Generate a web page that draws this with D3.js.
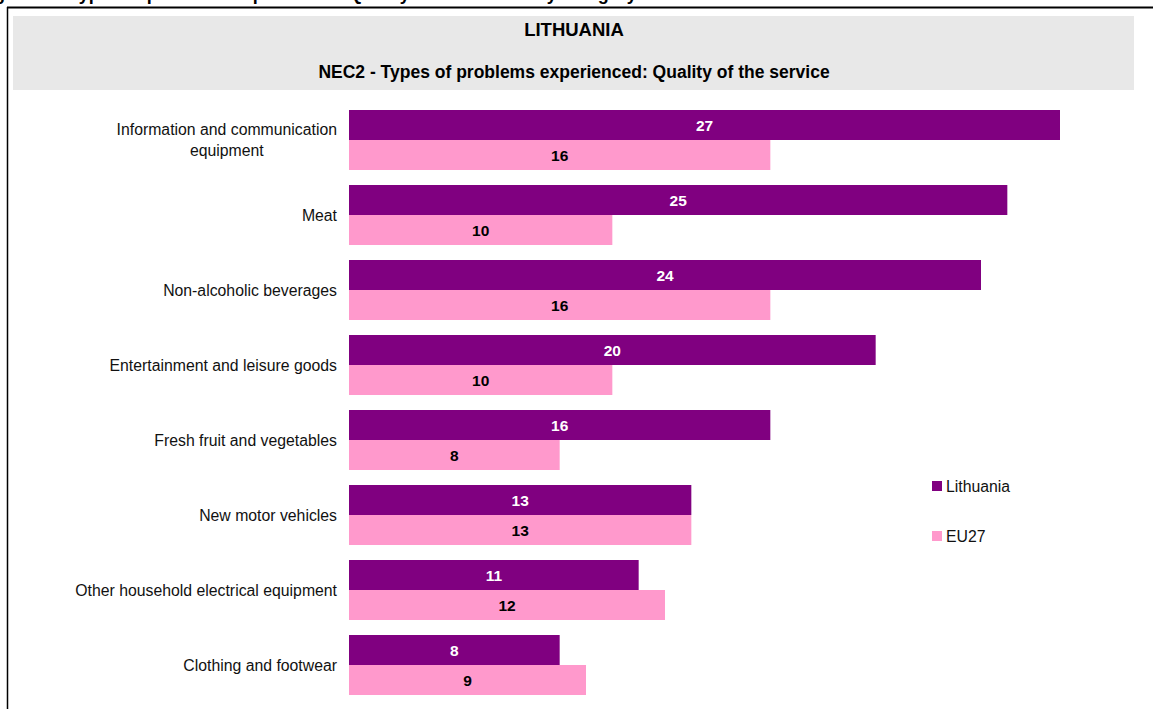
<!DOCTYPE html>
<html>
<head>
<meta charset="utf-8">
<script src="https://cdn.jsdelivr.net/npm/d3@7"></script>
<style>
html,body{margin:0;padding:0;background:#fff;}
svg{display:block;font-family:"Liberation Sans",Arial,sans-serif;}
</style>
</head>
<body>
<svg id="chart" width="1153" height="709"></svg>
<script>
const categories = [
  ["Information and communication", "equipment"],
  ["Meat"],
  ["Non-alcoholic beverages"],
  ["Entertainment and leisure goods"],
  ["Fresh fruit and vegetables"],
  ["New motor vehicles"],
  ["Other household electrical equipment"],
  ["Clothing and footwear"]
];
const lithuania = [27, 25, 24, 20, 16, 13, 11, 8];
const eu27 = [16, 10, 16, 10, 8, 13, 12, 9];
const seriesNames = ["Lithuania", "EU27"];
const colors = ["#800080", "#FF99CC"];
const labelColors = ["#ffffff", "#000000"];
const chartTitle = "LITHUANIA";
const chartSubtitle = "NEC2 - Types of problems experienced: Quality of the service";
const pageHeading = "Figure 13: Types of problems experienced: Quality of the service by category";

const svg = d3.select("#chart");
const keys = categories.map((c, i) => i);

// clipped page heading (only descenders visible, as in the reference)
svg.append("text")
  .attr("x", -22).attr("y", 0)
  .attr("font-size", 18).attr("font-weight", "bold")
  .text(pageHeading);

// frame
svg.append("line").attr("x1", 7).attr("x2", 1153).attr("y1", 7.5).attr("y2", 7.5)
  .attr("stroke", "#000").attr("stroke-width", 2);
svg.append("line").attr("x1", 7.5).attr("x2", 7.5).attr("y1", 7).attr("y2", 709)
  .attr("stroke", "#000").attr("stroke-width", 1.5);

// header box
svg.append("rect").attr("x", 13).attr("y", 16).attr("width", 1121).attr("height", 74)
  .attr("fill", "#E8E8E8");
svg.append("text").attr("x", 574).attr("y", 36).attr("text-anchor", "middle")
  .attr("font-size", 18.5).attr("font-weight", "bold")
  .text(chartTitle);
svg.append("text").attr("x", 574).attr("y", 78).attr("text-anchor", "middle")
  .attr("font-size", 17.5).attr("font-weight", "bold")
  .text(chartSubtitle);

const x = d3.scaleLinear().domain([0, 27]).range([349, 1060]);
const y = d3.scaleBand().domain(keys).range([102.5, 702.5]).paddingInner(0.2).paddingOuter(0.1);
const ySub = d3.scaleBand().domain([0, 1]).range([0, y.bandwidth()]);

const data = keys.map(i => ({ i, vals: [lithuania[i], eu27[i]] }));

const g = svg.selectAll("g.cat").data(data).join("g").attr("class", "cat")
  .attr("transform", d => `translate(0,${y(d.i)})`);

g.selectAll("rect").data(d => d.vals.map((v, s) => ({ v, s }))).join("rect")
  .attr("x", x(0))
  .attr("y", d => ySub(d.s))
  .attr("width", d => x(d.v) - x(0))
  .attr("height", ySub.bandwidth())
  .attr("fill", d => colors[d.s]);

g.selectAll("text.val").data(d => d.vals.map((v, s) => ({ v, s }))).join("text")
  .attr("class", "val")
  .attr("x", d => (x(d.v) + x(0)) / 2)
  .attr("y", d => ySub(d.s) + ySub.bandwidth() / 2 + 5.5)
  .attr("text-anchor", "middle")
  .attr("font-size", 15.5).attr("font-weight", "bold")
  .attr("fill", d => labelColors[d.s])
  .text(d => d.v);

// category labels
const labelRight = 337;
g.each(function(d) {
  const lines = categories[d.i];
  const grp = d3.select(this);
  const t = grp.append("text").attr("font-size", 15.8).attr("fill", "#111").attr("text-anchor", "middle");
  const lh = 21;
  const cy = y.bandwidth() / 2;
  lines.forEach((ln, k) => {
    t.append("tspan").attr("x", 0)
      .attr("y", cy + 5.5 + (k - (lines.length - 1) / 2) * lh)
      .text(ln);
  });
  let maxW = 0;
  t.selectAll("tspan").each(function() { maxW = Math.max(maxW, this.getComputedTextLength()); });
  t.selectAll("tspan").attr("x", labelRight - maxW / 2);
});

// legend
const legend = svg.selectAll("g.leg").data(seriesNames).join("g").attr("class", "leg")
  .attr("transform", (d, i) => `translate(932,${481 + i * 50})`);
legend.append("rect").attr("width", 10).attr("height", 10).attr("fill", (d, i) => colors[i]);
legend.append("text").attr("x", 14).attr("y", 10.5).attr("font-size", 15.8).attr("fill", "#111").text(d => d);
</script>
</body>
</html>
